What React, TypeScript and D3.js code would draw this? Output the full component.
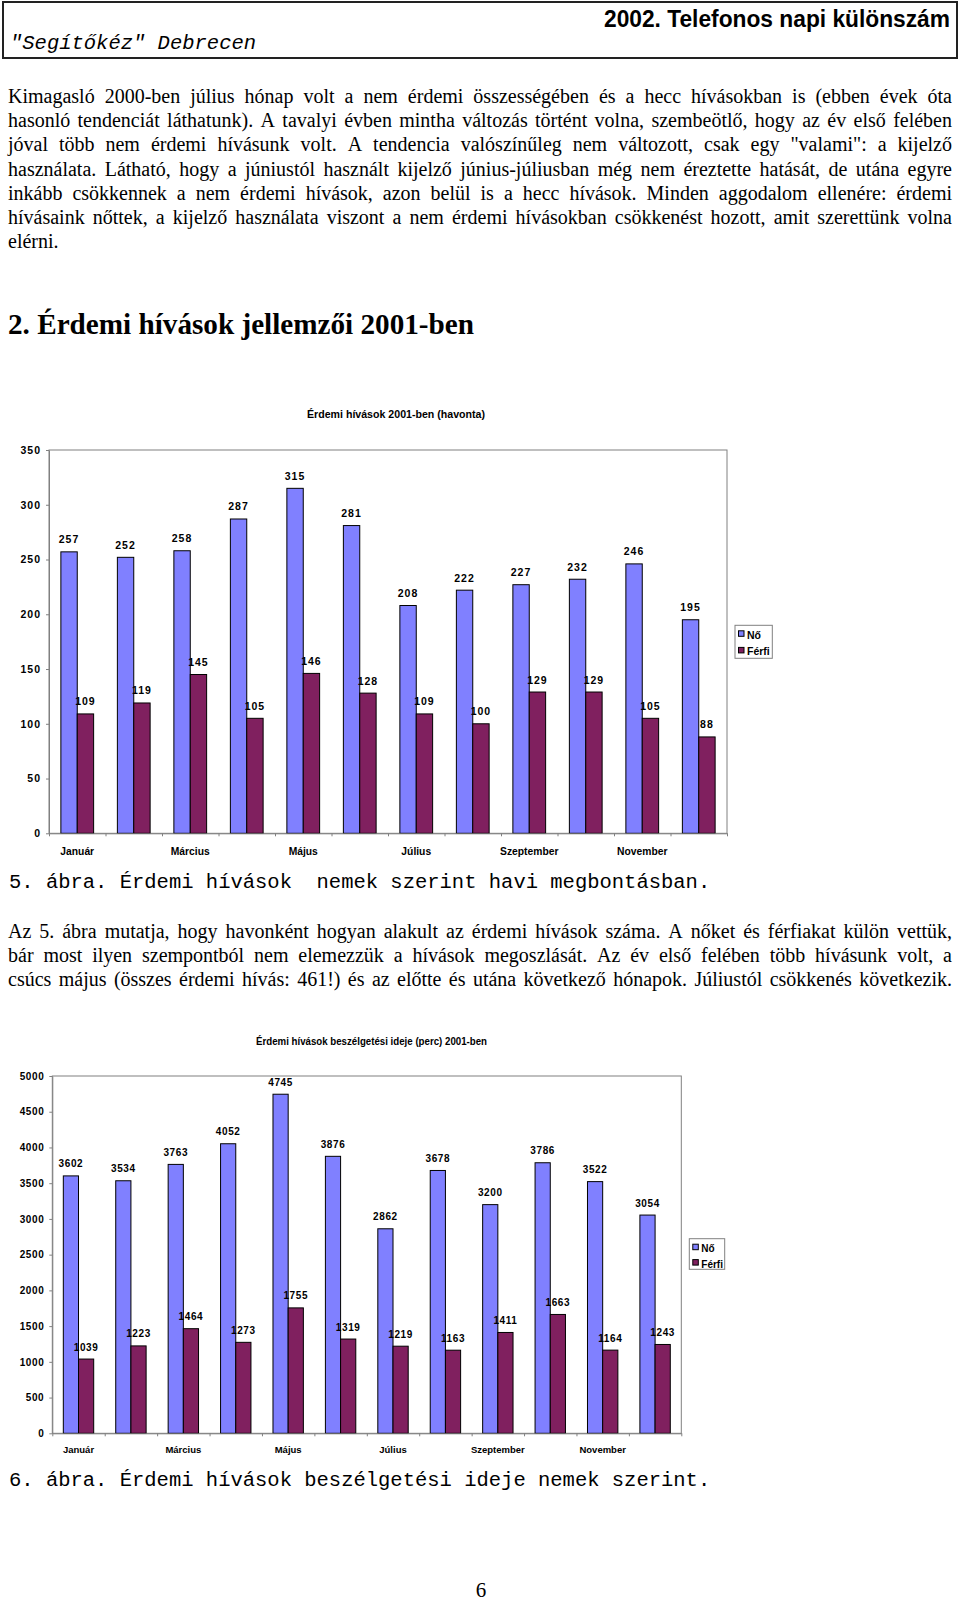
import React, { useEffect, useRef } from 'react';
import * as d3 from 'd3';

const months = ['Január', 'Február', 'Március', 'Április', 'Május', 'Június', 'Július', 'Augusztus', 'Szeptember', 'Október', 'November', 'December'];
const seriesNames = ['Nő', 'Férfi'];

// 5. ábra: érdemi hívások száma
const callsNo = [257, 252, 258, 287, 315, 281, 208, 222, 227, 232, 246, 195];
const callsFerfi = [109, 119, 145, 105, 146, 128, 109, 100, 129, 129, 105, 88];
const callTicks = [0, 50, 100, 150, 200, 250, 300, 350];

// 6. ábra: beszélgetési idő (perc)
const durNo = [3602, 3534, 3763, 4052, 4745, 3876, 2862, 3678, 3200, 3786, 3522, 3054];
const durFerfi = [1039, 1223, 1464, 1273, 1755, 1319, 1219, 1163, 1411, 1663, 1164, 1243];
const durTicks = [0, 500, 1000, 1500, 2000, 2500, 3000, 3500, 4000, 4500, 5000];

const para1 = [
  'Kimagasló 2000-ben július hónap volt a nem érdemi összességében és a hecc hívásokban is (ebben évek óta',
  'hasonló tendenciát láthatunk). A tavalyi évben mintha változás történt volna, szembeötlő, hogy az év első felében',
  'jóval több nem érdemi hívásunk volt. A tendencia valószínűleg nem változott, csak egy "valami": a kijelző',
  'használata. Látható, hogy a júniustól használt kijelző június-júliusban még nem éreztette hatását, de utána egyre',
  'inkább csökkennek a nem érdemi hívások, azon belül is a hecc hívások. Minden aggodalom ellenére: érdemi',
  'hívásaink nőttek, a kijelző használata viszont a nem érdemi hívásokban csökkenést hozott, amit szerettünk volna',
  'elérni.',
];
const para2 = [
  'Az 5. ábra mutatja, hogy havonként hogyan alakult az érdemi hívások száma. A nőket és férfiakat külön vettük,',
  'bár most ilyen szempontból nem elemezzük a hívások megoszlását. Az év első felében több hívásunk volt, a',
  'csúcs május (összes érdemi hívás: 461!) és az előtte és utána következő hónapok. Júliustól csökkenés következik.',
];

const NO_COLOR = '#8080ff';
const FERFI_COLOR = '#80205f';
const SANS = '"Liberation Sans", Arial, sans-serif';
const SERIF = '"Liberation Serif", "Times New Roman", serif';
const MONO = '"Liberation Mono", "Courier New", monospace';

let ctx: CanvasRenderingContext2D | null = null;
function measure(word: string, font: string) {
  if (!ctx) ctx = document.createElement('canvas').getContext('2d');
  ctx!.font = font;
  return ctx!.measureText(word).width;
}

// sorkizárt bekezdés: szavanként helyezve
function Justified({ lines, x, y, width, lineHeight, lastJustify }: any) {
  const font = `20px ${SERIF}`;
  const space = measure(' ', font);
  return (
    <g fontFamily={SERIF} fontSize={20} fill="#000">
      {lines.map((line: string, li: number) => {
        const words = line.split(' ');
        const widths = words.map((w) => measure(w, font));
        const justify = (li < lines.length - 1 || lastJustify) && words.length > 1;
        const gap = justify ? (width - d3.sum(widths)) / (words.length - 1) : space;
        let cx = x;
        const xs = widths.map((w) => {
          const p = cx;
          cx += w + gap;
          return p;
        });
        return (
          <text key={li} y={y + li * lineHeight}>
            {words.map((w, i) => (
              <tspan key={i} x={xs[i]}>{w}</tspan>
            ))}
          </text>
        );
      })}
    </g>
  );
}

function BarChart(p: any) {
  const yRef = useRef<SVGGElement>(null);
  const xRef = useRef<SVGGElement>(null);

  const x = d3.scaleBand<string>().domain(months).range([p.x0, p.x1]);
  const sub = d3.scaleBand<string>().domain(seriesNames).range([0, x.bandwidth()]).paddingOuter(0.725);
  const y = d3.scaleLinear().domain([0, d3.max(p.ticks as number[])!]).range([p.bottom, p.top]);
  const edges = d3.scaleLinear().domain([0, months.length]).range([p.x0, p.x1]);

  useEffect(() => {
    const ga = d3.select(yRef.current!);
    ga.selectAll('*').remove();
    ga.call(d3.axisLeft(y).tickValues(p.ticks).tickSize(3).tickSizeOuter(0).tickPadding(5).tickFormat(d3.format('d')) as any);
    ga.attr('font-family', SANS).attr('font-size', p.fontSize).attr('font-weight', 'bold');
    ga.select('.domain').attr('stroke', '#808080');
    ga.selectAll('.tick line').attr('stroke', '#808080');
    ga.selectAll('.tick text').attr('fill', '#000').attr('letter-spacing', p.letterSpacing);

    const gx = d3.select(xRef.current!);
    gx.selectAll('*').remove();
    gx.call(d3.axisBottom(edges).tickValues(d3.range(months.length + 1)).tickSize(3).tickSizeOuter(0).tickFormat(() => '') as any);
    gx.select('.domain').attr('stroke', '#808080');
    gx.selectAll('.tick line').attr('stroke', '#808080');
  }, []);

  const valueLabel = (v: number, i: number, s: string) => (
    <text
      key={s + i}
      x={x(months[i])! + sub(s)! + sub.bandwidth() / 2}
      y={y(v) - 8.5}
      textAnchor="middle"
      fontFamily={SANS}
      fontWeight="bold"
      fontSize={p.fontSize}
      letterSpacing={p.letterSpacing}
      fill="#000"
    >
      {v}
    </text>
  );

  return (
    <g>
      <text x={p.titleX} y={p.titleY} textLength={p.titleLen} lengthAdjust="spacingAndGlyphs" fontFamily={SANS} fontWeight="bold" fontSize={10} fill="#000">
        {p.title}
      </text>
      <rect x={p.x0} y={p.top} width={p.x1 - p.x0} height={p.bottom - p.top} fill="#fff" stroke="#808080" strokeWidth={1} />
      {p.no.map((v: number, i: number) => (
        <rect key={'n' + i} x={x(months[i])! + sub('Nő')!} y={y(v)} width={sub.bandwidth()} height={y(0) - y(v)} fill={NO_COLOR} stroke="#000" strokeWidth={1} />
      ))}
      {p.ferfi.map((v: number, i: number) => (
        <rect key={'f' + i} x={x(months[i])! + sub('Férfi')!} y={y(v)} width={sub.bandwidth()} height={y(0) - y(v)} fill={FERFI_COLOR} stroke="#000" strokeWidth={1} />
      ))}
      {p.ferfi.map((v: number, i: number) => valueLabel(v, i, 'Férfi'))}
      {p.no.map((v: number, i: number) => valueLabel(v, i, 'Nő'))}
      <g ref={yRef} transform={`translate(${p.x0},0)`} />
      <g ref={xRef} transform={`translate(0,${p.bottom})`} />
      {months.map((m, i) =>
        i % 2 === 0 ? (
          <text key={m} x={x(m)! + x.bandwidth() / 2} y={p.monthY} textAnchor="middle" fontFamily={SANS} fontWeight="bold" fontSize={p.monthSize} fill="#000">
            {m}
          </text>
        ) : null
      )}
      <rect x={p.lx} y={p.ly} width={p.lw} height={p.lh} fill="#fff" stroke="#808080" strokeWidth={1} />
      {seriesNames.map((s, i) => (
        <g key={s}>
          <rect x={p.lx + 3.5} y={p.ly + 5.5 + i * p.lstep} width={5.5} height={5.5} fill={i === 0 ? NO_COLOR : FERFI_COLOR} stroke="#000" strokeWidth={1} />
          <text x={p.lx + 12} y={p.ly + 13.5 + i * p.lstep} fontFamily={SANS} fontWeight="bold" fontSize={p.fontSize} fill="#000">
            {s}
          </text>
        </g>
      ))}
    </g>
  );
}

export default function App() {
  return (
    <svg width={960} height={1604} style={{ position: 'absolute', left: 0, top: 0, background: '#fff' }}>
      <rect x={0} y={0} width={960} height={1604} fill="#fff" />
      {/* fejléc */}
      <rect x={3} y={2} width={954} height={56} fill="none" stroke="#222" strokeWidth={2} />
      <text x={950} y={27} textAnchor="end" textLength={346} lengthAdjust="spacingAndGlyphs" fontFamily={SANS} fontWeight="bold" fontSize={23} fill="#000">
        2002. Telefonos napi különszám
      </text>
      <text x={10} y={49} fontFamily={MONO} fontStyle="italic" fontSize={20.5} fill="#000">
        "Segítőkéz" Debrecen
      </text>

      <Justified lines={para1} x={8} y={103} width={944} lineHeight={24.2} lastJustify={false} />

      <text x={8} y={334} textLength={466} lengthAdjust="spacingAndGlyphs" fontFamily={SERIF} fontWeight="bold" fontSize={29} fill="#000">
        2. Érdemi hívások jellemzői 2001-ben
      </text>

      <BarChart
        no={callsNo}
        ferfi={callsFerfi}
        ticks={callTicks}
        x0={49}
        x1={727}
        top={450}
        bottom={833.3}
        title="Érdemi hívások 2001-ben (havonta)"
        titleX={307}
        titleY={418}
        titleLen={178}
        fontSize={10.5}
        letterSpacing={1}
        monthSize={10.3}
        monthY={855}
        lx={735}
        ly={625.3}
        lw={37.3}
        lh={33}
        lstep={16.6}
      />

      <text x={9} y={888} fontFamily={MONO} fontSize={20.5} fill="#000" style={{ whiteSpace: 'pre' }}>
        5. ábra. Érdemi hívások  nemek szerint havi megbontásban.
      </text>

      <Justified lines={para2} x={8} y={938} width={944} lineHeight={24.2} lastJustify={true} />

      <BarChart
        no={durNo}
        ferfi={durFerfi}
        ticks={durTicks}
        x0={52.3}
        x1={681.3}
        top={1076}
        bottom={1433.3}
        title="Érdemi hívások beszélgetési ideje (perc) 2001-ben"
        titleX={256}
        titleY={1045}
        titleLen={231}
        fontSize={10}
        letterSpacing={0.6}
        monthSize={9.5}
        monthY={1452.7}
        lx={689.3}
        ly={1238.7}
        lw={35.4}
        lh={30.6}
        lstep={15.4}
      />

      <text x={9} y={1486} fontFamily={MONO} fontSize={20.5} fill="#000" style={{ whiteSpace: 'pre' }}>
        6. ábra. Érdemi hívások beszélgetési ideje nemek szerint.
      </text>

      <text x={481} y={1597} textAnchor="middle" fontFamily={SERIF} fontSize={21} fill="#000">
        6
      </text>
    </svg>
  );
}
